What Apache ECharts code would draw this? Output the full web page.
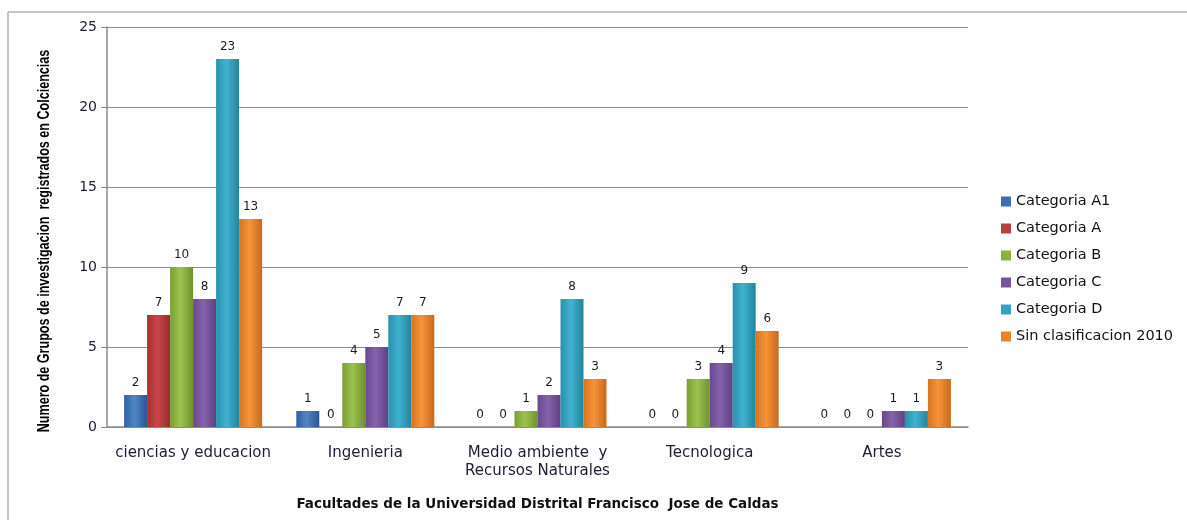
<!DOCTYPE html>
<html><head><meta charset="utf-8">
<script src="https://cdn.jsdelivr.net/npm/echarts@6/dist/echarts.min.js"></script>
<style>html,body{margin:0;padding:0;background:#fff}#c{width:1187px;height:520px}</style>
</head><body><div id="c"></div>
<script>
var categories = ['ciencias y educacion', 'Ingenieria', 'Medio ambiente  y\nRecursos Naturales', 'Tecnologica', 'Artes'];
var seriesNames = ['Categoria A1', 'Categoria A', 'Categoria B', 'Categoria C', 'Categoria D', 'Sin clasificacion 2010'];
var catA1 = [2, 1, 0, 0, 0];
var catA = [7, 0, 0, 0, 0];
var catB = [10, 4, 1, 3, 0];
var catC = [8, 5, 2, 4, 1];
var catD = [23, 7, 8, 9, 1];
var sinClas = [13, 7, 3, 6, 3];
var yTicks = [0, 5, 10, 15, 20, 25];
var yTitle = 'Numero de Grupos de investigacion  registrados en Colciencias';
var xTitle = 'Facultades de la Universidad Distrital Francisco  Jose de Caldas';

var values = [catA1, catA, catB, catC, catD, sinClas];
var baseColors = [
  ['#2f5f9e', '#4f86c8', '#2a568f'],
  ['#a8302f', '#c9474a', '#9a2b2a'],
  ['#7a9e34', '#9dc24f', '#6f912e'],
  ['#69488f', '#8662ad', '#5f4083'],
  ['#2a8fab', '#40b2d1', '#24839d'],
  ['#d8731e', '#f6943a', '#c9691a']
];
var legendColors = ['#3c70b3', '#bf3c3e', '#8cb042', '#75549c', '#35a2c0', '#e9832b'];
var FONT = 'DejaVu Sans';

var series = seriesNames.map(function (n, i) {
  var c = baseColors[i];
  return {
    name: n, type: 'bar', data: values[i], barWidth: 23, barGap: '0%',
    itemStyle: {
      color: new echarts.graphic.LinearGradient(0, 0, 1, 0, [
        {offset: 0, color: c[0]}, {offset: 0.45, color: c[1]}, {offset: 1, color: c[2]}
      ])
    },
    label: {show: true, position: 'top', distance: 6, color: '#1a1a2a',
      fontFamily: FONT, fontSize: 12}
  };
});

var chart = echarts.init(document.getElementById('c'));
chart.setOption({
  animation: false,
  color: legendColors,
  grid: {left: 107, right: 219, top: 27, bottom: 93},
  legend: {
    orient: 'vertical', left: 996, top: 189, itemWidth: 10, itemHeight: 10, itemGap: 12,
    icon: 'rect',
    textStyle: {fontFamily: FONT, fontSize: 14.5, color: '#111'},
    data: seriesNames.map(function (n, i) { return {name: n, itemStyle: {color: legendColors[i]}}; })
  },
  xAxis: {
    type: 'category', data: categories,
    name: xTitle,
    nameLocation: 'middle', nameGap: 70,
    nameTextStyle: {fontFamily: FONT, fontWeight: 'bold', fontSize: 13.5, color: '#111'},
    axisLine: {lineStyle: {color: '#8a8a8a', width: 1.5}},
    axisTick: {show: false},
    axisLabel: {interval: 0, fontFamily: FONT, fontSize: 15, color: '#1d1d35', margin: 17, lineHeight: 18}
  },
  yAxis: {
    type: 'value', min: yTicks[0], max: yTicks[yTicks.length - 1], interval: 5,
    axisLine: {show: true, lineStyle: {color: '#8a8a8a', width: 1.5}},
    axisTick: {show: true, length: 6, lineStyle: {color: '#8a8a8a'}},
    axisLabel: {fontFamily: FONT, fontSize: 14, color: '#1d1d35', margin: 10},
    splitLine: {lineStyle: {color: '#8c8c8c', width: 1}}
  },
  graphic: [
    {type: 'line', shape: {x1: 8, y1: 12, x2: 1187, y2: 12}, style: {stroke: '#b0b0b0', lineWidth: 1.5}},
    {type: 'line', shape: {x1: 8, y1: 12, x2: 8, y2: 520}, style: {stroke: '#b0b0b0', lineWidth: 1.5}},
    {type: 'text', x: 45, y: 241, rotation: Math.PI / 2, scaleX: 0.785,
      style: {text: yTitle, font: 'bold 16px "Liberation Sans"', fill: '#000',
        textAlign: 'center', textVerticalAlign: 'middle'}}
  ],
  series: series
});
</script></body></html>
